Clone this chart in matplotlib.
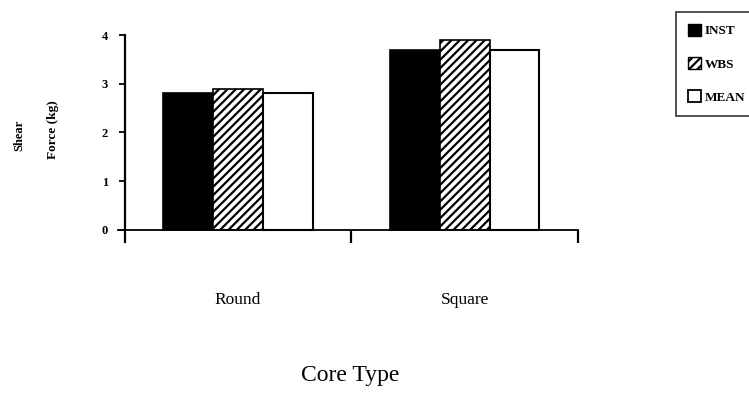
import matplotlib
matplotlib.use("Agg")
import matplotlib.pyplot as plt
from matplotlib.patches import Patch
import numpy as np

categories = ["Round", "Square"]
series_names = ["INST", "WBS", "MEAN"]
inst = [2.8, 3.7]
wbs = [2.9, 3.9]
mean = [2.8, 3.7]
y_ticks = [0, 1, 2, 3, 4]

plt.rcParams['font.family'] = ['Liberation Serif', 'DejaVu Serif']
plt.rcParams['hatch.linewidth'] = 1.6

fig = plt.figure(figsize=(7.49, 3.94), dpi=100)
W, H = 749, 394
left_px, right_px = 118, 578
top_px, bot_px = 35, 242
ax = fig.add_axes([left_px / W, 1 - bot_px / H, (right_px - left_px) / W, (bot_px - top_px) / H])

x = np.arange(len(categories))
bw = 0.22
ax.bar(x - bw, inst, bw, color='black', edgecolor='black', linewidth=1.2)
ax.bar(x, wbs, bw, color='white', edgecolor='black', hatch='////', linewidth=1.2)
ax.bar(x + bw, mean, bw, color='white', edgecolor='black', linewidth=1.5)

ax.set_xlim(-0.53, 1.5)
ax.set_ylim(-0.25, 4)
for s in ['top', 'right']:
    ax.spines[s].set_visible(False)
ax.spines['bottom'].set_position(('data', 0))
ax.spines['left'].set_position(('data', -0.5))
ax.spines['left'].set_bounds(-0.25, 4)
ax.spines['left'].set_linewidth(1.6)
ax.spines['bottom'].set_linewidth(1.3)

ax.set_xticks([0.5, 1.5])
ax.set_xticklabels([])
ax.tick_params(axis='x', direction='out', length=9, width=1.6)
ax.set_yticks(y_ticks)
ax.set_yticklabels([str(t) for t in y_ticks], fontsize=9, fontweight='bold')
ax.tick_params(axis='y', direction='out', length=4, width=1.3, pad=8)

for xi, c in zip(x, categories):
    ax.text(xi, -1.45, c, ha='center', va='center', fontsize=12.5)

fig.text(350 / W, 1 - 376 / H, "Core Type", ha='center', va='center', fontsize=17)
fig.text(19 / W, 1 - 135 / H, "Shear", rotation=90, ha='center', va='center', fontsize=9, fontweight='bold')
fig.text(53 / W, 1 - 130 / H, "Force (kg)", rotation=90, ha='center', va='center', fontsize=9.5, fontweight='bold')

handles = [Patch(facecolor='black', edgecolor='black'),
           Patch(facecolor='white', edgecolor='black', hatch='////'),
           Patch(facecolor='white', edgecolor='black', linewidth=1.3)]
leg = fig.legend(handles, series_names, loc='upper left', bbox_to_anchor=(676 / W, 1 - 12 / H),
                 frameon=True, fancybox=False, edgecolor='black',
                 prop={'weight': 'bold', 'size': 9.5}, handlelength=1.0, handleheight=1.0,
                 labelspacing=1.5, borderpad=0.9, handletextpad=0.3, borderaxespad=0)
leg.get_frame().set_linewidth(1.2)

fig.savefig("out.png", dpi=100)
